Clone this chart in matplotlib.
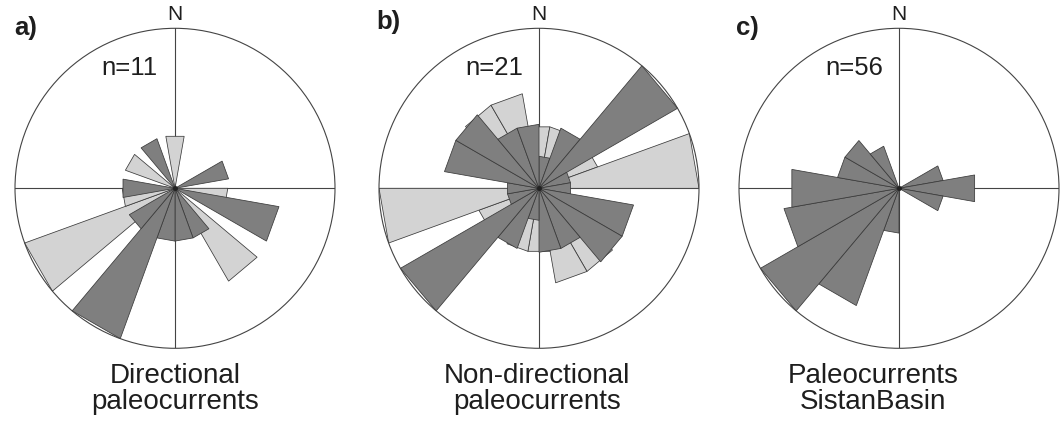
import numpy as np
import matplotlib.pyplot as plt
from matplotlib.patches import Circle

plt.rcParams['font.family'] = ['Liberation Sans', 'DejaVu Sans']

W, H = 1064, 421
SECTOR = 20  # class width, degrees
LIGHT = '#d3d3d3'
DARK = '#7f7f7f'
EDGE = '#3a3a3a'
INK = '#1e1e1e'

# petal direction (class centre, azimuth) and length (fraction of the outer circle)
a_light_dir = [0, 100, 140, 240, 260, 300]
a_light_len = [0.33, 0.33, 0.67, 1.0, 0.33, 0.33]
a_dark_dir = [70, 110, 150, 170, 190, 210, 230, 270, 330]
a_dark_len = [0.34, 0.66, 0.33, 0.33, 0.33, 1.0, 0.33, 0.33, 0.33]

b_light_dir = [0, 20, 60, 80, 140, 160, 180, 200, 240, 260, 320, 340]
b_light_len = [0.39, 0.39, 0.39, 1.0, 0.6, 0.6, 0.4, 0.4, 0.4, 1.0, 0.6, 0.6]
b_dark_dir = [10, 30, 50, 70, 90, 110, 130, 150, 170, 190, 210, 230, 250, 270, 290, 310, 330, 350]
b_dark_len = [0.2, 0.4, 1.0, 0.2, 0.2, 0.6, 0.6, 0.4, 0.4, 0.2, 0.4, 1.0, 0.2, 0.2, 0.6, 0.6, 0.4, 0.4]

c_light_dir = []
c_light_len = []
c_dark_dir = [70, 90, 110, 190, 210, 230, 250, 270, 290, 310, 330]
c_dark_len = [0.28, 0.48, 0.28, 0.28, 0.78, 1.0, 0.73, 0.68, 0.39, 0.39, 0.28]

letters = ['a)', 'b)', 'c)']
counts = ['n=11', 'n=21', 'n=56']
titles = [('Directional', 'paleocurrents'),
          ('Non-directional', 'paleocurrents'),
          ('Paleocurrents', 'SistanBasin')]

# layout in pixels: circle centre, radius, label spots
centres = [(175, 188.3), (539, 188.3), (899, 188.3)]
RADIUS = 160
letter_pos = [(14, 28), (376, 22), (736, 28)]
count_pos = [(129, 68), (494, 68), (854, 68)]
title_x = [175, 537, 873]


def draw_petal(ax, az, length, color, z):
    a1 = np.deg2rad(az - SECTOR / 2)
    a2 = np.deg2rad(az + SECTOR / 2)
    xs = [0, length * np.sin(a1), length * np.sin(a2)]
    ys = [0, length * np.cos(a1), length * np.cos(a2)]
    ax.fill(xs, ys, facecolor=color, edgecolor=EDGE, linewidth=0.55,
            joinstyle='miter', zorder=z)


def rose(ax, light_dir, light_len, dark_dir, dark_len):
    # N-S and E-W lines under the petals
    for az in (0, 90, 180, 270):
        t = np.deg2rad(az)
        ax.plot([0, np.sin(t)], [0, np.cos(t)], color='#444444', lw=0.8, zorder=1)
    for az, ln in zip(light_dir, light_len):
        draw_petal(ax, az, ln, LIGHT, 2)
    for az, ln in zip(dark_dir, dark_len):
        draw_petal(ax, az, ln, DARK, 3)
    ax.add_patch(Circle((0, 0), 1, fill=False, edgecolor='#444444', lw=0.8,
                        zorder=4, clip_on=False))
    ax.plot(0, 0, 'o', ms=2.5, color='#222222', zorder=5)
    ax.set_xlim(-1, 1)
    ax.set_ylim(-1, 1)
    ax.set_aspect('equal')
    ax.axis('off')


fig = plt.figure(figsize=(W / 100, H / 100), dpi=100)

data = [(a_light_dir, a_light_len, a_dark_dir, a_dark_len),
        (b_light_dir, b_light_len, b_dark_dir, b_dark_len),
        (c_light_dir, c_light_len, c_dark_dir, c_dark_len)]

for i, (cx, cy) in enumerate(centres):
    ax = fig.add_axes([(cx - RADIUS) / W, (H - cy - RADIUS) / H,
                       2 * RADIUS / W, 2 * RADIUS / H])
    rose(ax, *data[i])

    fig.text(cx / W, 1 - 15 / H, 'N', fontsize=15, ha='center', va='center',
             color=INK)
    lx, ly = letter_pos[i]
    fig.text(lx / W, 1 - ly / H, letters[i], fontsize=18.5, fontweight='bold',
             ha='left', va='center', color=INK)
    nx, ny = count_pos[i]
    fig.text(nx / W, 1 - ny / H, counts[i], fontsize=18.5, ha='center',
             va='center', color=INK)
    fig.text(title_x[i] / W, 1 - 383 / H, titles[i][0], fontsize=20,
             ha='center', va='baseline', color=INK)
    fig.text(title_x[i] / W, 1 - 409 / H, titles[i][1], fontsize=20,
             ha='center', va='baseline', color=INK)

fig.savefig('out.png', dpi=100)
